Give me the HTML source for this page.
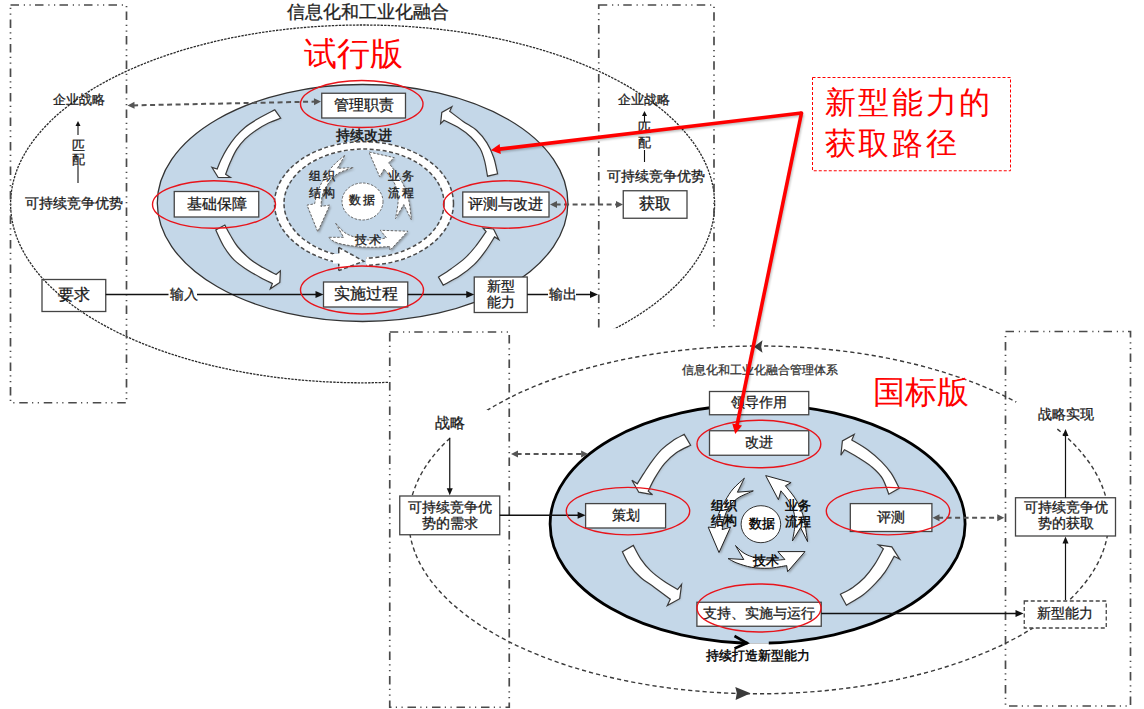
<!DOCTYPE html><html><head><meta charset="utf-8"><style>html,body{margin:0;padding:0;background:#fff;width:1144px;height:709px;overflow:hidden}svg{display:block}</style></head><body>
<svg width="1144" height="709" viewBox="0 0 1144 709" font-family="'Liberation Sans', sans-serif">
<defs><filter id="sh" x="-20%" y="-20%" width="140%" height="140%"><feGaussianBlur stdDeviation="0.8"/></filter><filter id="sh2" x="-20%" y="-20%" width="140%" height="140%"><feGaussianBlur stdDeviation="1.2"/></filter></defs>
<rect width="1144" height="709" fill="#fff"/>
<ellipse cx="362.6" cy="203.9" rx="352" ry="178.9" fill="none" stroke="#2a2a2a" stroke-width="1.3" stroke-dasharray="2.4 1.1"/>
<rect x="10.5" y="5" width="116" height="397.75" fill="none" stroke="#4a4a4a" stroke-width="1.7" stroke-dasharray="8.5 4.8 1.2 4.5 1.2 4.3"/>
<rect x="598.75" y="5" width="115.25" height="340" fill="none" stroke="#4a4a4a" stroke-width="1.7" stroke-dasharray="8.5 4.8 1.2 4.5 1.2 4.3"/>
<text x="367.75" y="11.80" stroke="#222" stroke-width="0.28" font-size="17.5" fill="#222" text-anchor="middle" dominant-baseline="central" font-weight="normal" >信息化和工业化融合</text>
<text x="353.8" y="53.00" font-size="32.6" fill="#F00" text-anchor="middle" dominant-baseline="central" font-weight="normal" >试行版</text>
<ellipse cx="362.6" cy="203" rx="205.3" ry="118.5" fill="#C4D7E8" stroke="#333" stroke-width="1.3"/>
<ellipse cx="364" cy="203.5" rx="84.7" ry="58" fill="none" stroke="#fff" stroke-width="8.5"/>
<ellipse cx="364" cy="203.5" rx="89.5" ry="61.8" fill="none" stroke="#4a4a4a" stroke-width="1.5" stroke-dasharray="4 2.5"/>
<ellipse cx="364" cy="203.5" rx="80" ry="54.5" fill="none" stroke="#4a4a4a" stroke-width="1.5" stroke-dasharray="4 2.5"/>
<rect x="338.5" y="244" width="27.5" height="28" fill="#C4D7E8"/>
<polygon points="338.75,247.5 363.75,261.25 338.75,270.6" fill="#fff"/>
<polyline points="338.75,247.5 363.75,261.25 338.75,270.6" fill="none" stroke="#4a4a4a" stroke-width="1.5" stroke-dasharray="4 2.5"/>
<line x1="338.75" y1="247.5" x2="338.75" y2="253.2" stroke="#3a3a3a" stroke-width="1.5"/>
<line x1="338.75" y1="263.6" x2="338.75" y2="270.6" stroke="#3a3a3a" stroke-width="1.5" stroke-dasharray="3 2"/>
<polygon points="340,254 340,263.5 333,263.5 333,254" fill="#fff"/>
<ellipse cx="362.5" cy="201.5" rx="20.5" ry="18.5" fill="#fff" stroke="#666" stroke-width="1" stroke-dasharray="2.5 1.5"/>
<path d="M274.80,109.80 C271.98,111.30 262.83,115.90 257.90,118.80 C252.97,121.70 248.90,124.22 245.20,127.20 C241.50,130.18 238.70,133.17 235.70,136.70 C232.70,140.23 229.67,144.52 227.20,148.40 C224.73,152.28 222.57,156.57 220.90,160.00 C219.23,163.43 217.82,167.50 217.20,169.00 L211.90,167.40 L218.20,177.50 L230.40,177.50 L225.60,174.30 C226.40,172.27 228.55,166.25 230.40,162.10 C232.25,157.95 234.23,153.27 236.70,149.40 C239.17,145.53 242.02,142.07 245.20,138.90 C248.38,135.73 251.92,133.05 255.80,130.40 C259.68,127.75 264.35,125.03 268.50,123.00 C272.65,120.97 278.67,119.00 280.70,118.20 Z" fill="#777" opacity="0.35" transform="translate(0.8,0.8)" filter="url(#sh)"/>
<path d="M274.80,109.80 C271.98,111.30 262.83,115.90 257.90,118.80 C252.97,121.70 248.90,124.22 245.20,127.20 C241.50,130.18 238.70,133.17 235.70,136.70 C232.70,140.23 229.67,144.52 227.20,148.40 C224.73,152.28 222.57,156.57 220.90,160.00 C219.23,163.43 217.82,167.50 217.20,169.00 L211.90,167.40 L218.20,177.50 L230.40,177.50 L225.60,174.30 C226.40,172.27 228.55,166.25 230.40,162.10 C232.25,157.95 234.23,153.27 236.70,149.40 C239.17,145.53 242.02,142.07 245.20,138.90 C248.38,135.73 251.92,133.05 255.80,130.40 C259.68,127.75 264.35,125.03 268.50,123.00 C272.65,120.97 278.67,119.00 280.70,118.20 Z" fill="#fff" stroke="#3a3a3a" stroke-width="1.2"/>
<path d="M215.80,230.10 C217.13,232.83 220.72,241.48 223.80,246.50 C226.88,251.52 230.43,256.33 234.30,260.20 C238.17,264.07 242.58,266.78 247.00,269.70 C251.42,272.62 256.57,275.40 260.80,277.70 C265.03,280.00 270.47,282.53 272.40,283.50 L270.30,288.80 L279.80,282.40 L280.40,270.80 L276.10,274.50 C273.90,273.35 267.22,270.15 262.90,267.60 C258.58,265.05 254.43,262.72 250.20,259.20 C245.97,255.68 240.85,250.57 237.50,246.50 C234.15,242.43 232.22,238.37 230.10,234.80 C227.98,231.23 225.68,226.72 224.80,225.10 Z" fill="#777" opacity="0.35" transform="translate(0.8,0.8)" filter="url(#sh)"/>
<path d="M215.80,230.10 C217.13,232.83 220.72,241.48 223.80,246.50 C226.88,251.52 230.43,256.33 234.30,260.20 C238.17,264.07 242.58,266.78 247.00,269.70 C251.42,272.62 256.57,275.40 260.80,277.70 C265.03,280.00 270.47,282.53 272.40,283.50 L270.30,288.80 L279.80,282.40 L280.40,270.80 L276.10,274.50 C273.90,273.35 267.22,270.15 262.90,267.60 C258.58,265.05 254.43,262.72 250.20,259.20 C245.97,255.68 240.85,250.57 237.50,246.50 C234.15,242.43 232.22,238.37 230.10,234.80 C227.98,231.23 225.68,226.72 224.80,225.10 Z" fill="#fff" stroke="#3a3a3a" stroke-width="1.2"/>
<path d="M438.50,277.10 C440.62,275.70 446.80,271.87 451.20,268.70 C455.60,265.53 460.85,261.80 464.90,258.10 C468.95,254.40 471.97,250.92 475.50,246.50 C479.03,242.08 484.33,234.08 486.10,231.60 L482.90,227.90 L493.50,229.00 L498.80,239.60 L494.60,236.90 C493.00,239.37 488.37,247.12 485.00,251.70 C481.63,256.28 478.63,260.33 474.40,264.40 C470.17,268.47 464.80,272.65 459.60,276.10 C454.40,279.55 445.93,283.60 443.20,285.10 Z" fill="#777" opacity="0.35" transform="translate(0.8,0.8)" filter="url(#sh)"/>
<path d="M438.50,277.10 C440.62,275.70 446.80,271.87 451.20,268.70 C455.60,265.53 460.85,261.80 464.90,258.10 C468.95,254.40 471.97,250.92 475.50,246.50 C479.03,242.08 484.33,234.08 486.10,231.60 L482.90,227.90 L493.50,229.00 L498.80,239.60 L494.60,236.90 C493.00,239.37 488.37,247.12 485.00,251.70 C481.63,256.28 478.63,260.33 474.40,264.40 C470.17,268.47 464.80,272.65 459.60,276.10 C454.40,279.55 445.93,283.60 443.20,285.10 Z" fill="#fff" stroke="#3a3a3a" stroke-width="1.2"/>
<path d="M497.60,173.90 C496.95,171.17 495.48,162.67 493.70,157.50 C491.92,152.33 489.73,147.40 486.90,142.90 C484.07,138.40 480.65,134.08 476.70,130.50 C472.75,126.92 467.70,124.60 463.20,121.40 C458.70,118.20 451.95,112.98 449.70,111.30 L451.90,106.80 L441.80,112.40 L440.60,123.70 L444.00,120.30 C446.27,121.43 453.08,124.28 457.60,127.10 C462.12,129.92 467.35,133.63 471.10,137.20 C474.85,140.77 477.85,144.55 480.10,148.50 C482.35,152.45 483.37,156.28 484.60,160.90 C485.83,165.52 487.02,173.65 487.50,176.20 Z" fill="#777" opacity="0.35" transform="translate(0.8,0.8)" filter="url(#sh)"/>
<path d="M497.60,173.90 C496.95,171.17 495.48,162.67 493.70,157.50 C491.92,152.33 489.73,147.40 486.90,142.90 C484.07,138.40 480.65,134.08 476.70,130.50 C472.75,126.92 467.70,124.60 463.20,121.40 C458.70,118.20 451.95,112.98 449.70,111.30 L451.90,106.80 L441.80,112.40 L440.60,123.70 L444.00,120.30 C446.27,121.43 453.08,124.28 457.60,127.10 C462.12,129.92 467.35,133.63 471.10,137.20 C474.85,140.77 477.85,144.55 480.10,148.50 C482.35,152.45 483.37,156.28 484.60,160.90 C485.83,165.52 487.02,173.65 487.50,176.20 Z" fill="#fff" stroke="#3a3a3a" stroke-width="1.2"/>
<path d="M337.4,168.3 L345.1,155 C343.08,156.80 336.50,161.88 333.00,165.80 C329.50,169.72 326.63,174.28 324.10,178.50 C321.57,182.72 319.38,186.88 317.80,191.10 C316.22,195.32 315.13,201.68 314.60,203.80 L307,205.1 L317.8,231.8 L329.8,205.1 L320.9,206.4 C321.22,204.28 321.42,197.72 322.80,193.70 C324.18,189.68 326.65,185.68 329.20,182.30 C331.75,178.92 334.08,175.83 338.10,173.40 C342.12,170.97 350.77,168.65 353.30,167.70 Z" fill="#555" opacity="0.55" transform="translate(1.3,1.5)" filter="url(#sh2)"/>
<path d="M337.4,168.3 L345.1,155 C343.08,156.80 336.50,161.88 333.00,165.80 C329.50,169.72 326.63,174.28 324.10,178.50 C321.57,182.72 319.38,186.88 317.80,191.10 C316.22,195.32 315.13,201.68 314.60,203.80 L307,205.1 L317.8,231.8 L329.8,205.1 L320.9,206.4 C321.22,204.28 321.42,197.72 322.80,193.70 C324.18,189.68 326.65,185.68 329.20,182.30 C331.75,178.92 334.08,175.83 338.10,173.40 C342.12,170.97 350.77,168.65 353.30,167.70 Z" fill="#fff" stroke="#666" stroke-width="1" stroke-dasharray="2.5 1.5"/>
<path d="M384.1,169.1 L379.7,176.7 L368.9,152 L394.3,157.7 L388.6,162.8 C390.18,164.92 395.47,171.48 398.10,175.50 C400.73,179.52 402.60,182.68 404.40,186.90 C406.20,191.12 407.73,195.30 408.90,200.80 C410.07,206.30 410.98,216.72 411.40,219.90 L403.8,204.6 L395.5,218.6 C395.93,215.63 398.10,206.30 398.10,200.80 C398.10,195.30 396.98,189.82 395.50,185.60 C394.02,181.38 391.10,178.25 389.20,175.50 C387.30,172.75 384.95,170.17 384.10,169.10 Z" fill="#555" opacity="0.55" transform="translate(1.3,1.5)" filter="url(#sh2)"/>
<path d="M384.1,169.1 L379.7,176.7 L368.9,152 L394.3,157.7 L388.6,162.8 C390.18,164.92 395.47,171.48 398.10,175.50 C400.73,179.52 402.60,182.68 404.40,186.90 C406.20,191.12 407.73,195.30 408.90,200.80 C410.07,206.30 410.98,216.72 411.40,219.90 L403.8,204.6 L395.5,218.6 C395.93,215.63 398.10,206.30 398.10,200.80 C398.10,195.30 396.98,189.82 395.50,185.60 C394.02,181.38 391.10,178.25 389.20,175.50 C387.30,172.75 384.95,170.17 384.10,169.10 Z" fill="#fff" stroke="#666" stroke-width="1" stroke-dasharray="2.5 1.5"/>
<path d="M335.7,223.3 L343.6,237.3 L328.3,237.3 C329.83,238.25 332.77,241.47 337.50,243.00 C342.23,244.53 350.58,245.78 356.70,246.50 C362.82,247.22 368.67,247.30 374.20,247.30 C379.73,247.30 387.28,246.63 389.90,246.50 L389.9,250.4 L407.9,231.2 L380.3,230.3 L386.4,237.7 C384.07,238.13 377.35,240.30 372.40,240.30 C367.45,240.30 361.35,239.00 356.70,237.70 C352.05,236.40 348.00,234.90 344.50,232.50 C341.00,230.10 337.17,224.83 335.70,223.30 Z" fill="#555" opacity="0.55" transform="translate(1.3,1.5)" filter="url(#sh2)"/>
<path d="M335.7,223.3 L343.6,237.3 L328.3,237.3 C329.83,238.25 332.77,241.47 337.50,243.00 C342.23,244.53 350.58,245.78 356.70,246.50 C362.82,247.22 368.67,247.30 374.20,247.30 C379.73,247.30 387.28,246.63 389.90,246.50 L389.9,250.4 L407.9,231.2 L380.3,230.3 L386.4,237.7 C384.07,238.13 377.35,240.30 372.40,240.30 C367.45,240.30 361.35,239.00 356.70,237.70 C352.05,236.40 348.00,234.90 344.50,232.50 C341.00,230.10 337.17,224.83 335.70,223.30 Z" fill="#fff" stroke="#666" stroke-width="1" stroke-dasharray="2.5 1.5"/>
<text x="364.4" y="135.80" font-size="13.5" fill="#222" text-anchor="middle" dominant-baseline="central" font-weight="bold" >持续改进</text>
<text x="323.5" y="176.30" stroke="#222" stroke-width="0.35" font-size="11.5" fill="#222" text-anchor="middle" dominant-baseline="central" font-weight="normal" letter-spacing="2.2">组织</text>
<text x="323.5" y="192.55" stroke="#222" stroke-width="0.35" font-size="11.5" fill="#222" text-anchor="middle" dominant-baseline="central" font-weight="normal" letter-spacing="2.2">结构</text>
<text x="402" y="176.30" stroke="#222" stroke-width="0.35" font-size="11.5" fill="#222" text-anchor="middle" dominant-baseline="central" font-weight="normal" letter-spacing="2.2">业务</text>
<text x="402" y="192.55" stroke="#222" stroke-width="0.35" font-size="11.5" fill="#222" text-anchor="middle" dominant-baseline="central" font-weight="normal" letter-spacing="2.2">流程</text>
<text x="363.5" y="200.05" stroke="#222" stroke-width="0.35" font-size="11.5" fill="#222" text-anchor="middle" dominant-baseline="central" font-weight="normal" letter-spacing="2.2">数据</text>
<text x="369.5" y="239.80" stroke="#222" stroke-width="0.35" font-size="11.5" fill="#222" text-anchor="middle" dominant-baseline="central" font-weight="normal" letter-spacing="2.2">技术</text>
<rect x="321.75" y="93.25" width="83.75" height="24.75" fill="#fff" stroke="#444" stroke-width="1.3"/>
<text x="363.6" y="104.80" stroke="#1a1a1a" stroke-width="0.28" font-size="15.2" fill="#1a1a1a" text-anchor="middle" dominant-baseline="central" font-weight="normal" >管理职责</text>
<rect x="174.25" y="191.5" width="84.50" height="25.50" fill="#fff" stroke="#444" stroke-width="1.3"/>
<text x="216.5" y="203.30" stroke="#1a1a1a" stroke-width="0.28" font-size="15.2" fill="#1a1a1a" text-anchor="middle" dominant-baseline="central" font-weight="normal" >基础保障</text>
<rect x="462.75" y="192" width="86.25" height="25.00" fill="#fff" stroke="#444" stroke-width="1.3"/>
<text x="505.9" y="203.60" stroke="#1a1a1a" stroke-width="0.28" font-size="15.2" fill="#1a1a1a" text-anchor="middle" dominant-baseline="central" font-weight="normal" >评测与改进</text>
<rect x="323.5" y="282" width="84.25" height="25.00" fill="#fff" stroke="#444" stroke-width="1.3"/>
<text x="365.6" y="293.60" stroke="#1a1a1a" stroke-width="0.28" font-size="15.5" fill="#1a1a1a" text-anchor="middle" dominant-baseline="central" font-weight="normal" >实施过程</text>
<rect x="474.25" y="277" width="53.00" height="35.50" fill="#fff" stroke="#444" stroke-width="1.3"/>
<text x="500.75" y="285.60" stroke="#1a1a1a" stroke-width="0.28" font-size="14.2" fill="#1a1a1a" text-anchor="middle" dominant-baseline="central" font-weight="normal" >新型</text>
<text x="500.75" y="301.60" stroke="#1a1a1a" stroke-width="0.28" font-size="14.2" fill="#1a1a1a" text-anchor="middle" dominant-baseline="central" font-weight="normal" >能力</text>
<rect x="42" y="279.5" width="63.75" height="32.00" fill="none" stroke="#444" stroke-width="1.3"/>
<text x="73.9" y="294.30" stroke="#1a1a1a" stroke-width="0.28" font-size="16" fill="#1a1a1a" text-anchor="middle" dominant-baseline="central" font-weight="normal" >要求</text>
<rect x="623.25" y="190.75" width="63.75" height="27.50" fill="#fff" stroke="#444" stroke-width="1.3"/>
<text x="655.1" y="203.30" stroke="#1a1a1a" stroke-width="0.28" font-size="16" fill="#1a1a1a" text-anchor="middle" dominant-baseline="central" font-weight="normal" >获取</text>
<text x="78.5" y="99.40" stroke="#1a1a1a" stroke-width="0.28" font-size="13.4" fill="#1a1a1a" text-anchor="middle" dominant-baseline="central" font-weight="normal" >企业战略</text>
<text x="78" y="145.80" stroke="#1a1a1a" stroke-width="0.28" font-size="13.2" fill="#1a1a1a" text-anchor="middle" dominant-baseline="central" font-weight="normal" >匹</text>
<text x="78" y="159.00" stroke="#1a1a1a" stroke-width="0.28" font-size="13.2" fill="#1a1a1a" text-anchor="middle" dominant-baseline="central" font-weight="normal" >配</text>
<line x1="78.00" y1="135.00" x2="78.00" y2="125.00" stroke="#111" stroke-width="1.1"/>
<polygon points="78.00,121.00 80.50,126.00 75.50,126.00" fill="#111" />
<line x1="78" y1="166" x2="78" y2="183" stroke="#111" stroke-width="1.1"/>
<text x="74.2" y="203.40" stroke="#1a1a1a" stroke-width="0.28" font-size="13.7" fill="#1a1a1a" text-anchor="middle" dominant-baseline="central" font-weight="normal" >可持续竞争优势</text>
<text x="643.9" y="99.10" stroke="#1a1a1a" stroke-width="0.28" font-size="13.4" fill="#1a1a1a" text-anchor="middle" dominant-baseline="central" font-weight="normal" >企业战略</text>
<text x="644.5" y="127.80" stroke="#1a1a1a" stroke-width="0.28" font-size="12.5" fill="#1a1a1a" text-anchor="middle" dominant-baseline="central" font-weight="normal" >匹</text>
<text x="644.5" y="142.80" stroke="#1a1a1a" stroke-width="0.28" font-size="12.5" fill="#1a1a1a" text-anchor="middle" dominant-baseline="central" font-weight="normal" >配</text>
<line x1="644.50" y1="122.00" x2="644.50" y2="115.00" stroke="#111" stroke-width="1.1"/>
<polygon points="644.50,111.00 647.00,116.00 642.00,116.00" fill="#111" />
<line x1="644.5" y1="150" x2="644.5" y2="162" stroke="#111" stroke-width="1.1"/>
<text x="655.6" y="176.60" stroke="#1a1a1a" stroke-width="0.28" font-size="13.7" fill="#1a1a1a" text-anchor="middle" dominant-baseline="central" font-weight="normal" >可持续竞争优势</text>
<line x1="133.10" y1="105.38" x2="315.40" y2="101.62" stroke="#555" stroke-width="2" stroke-dasharray="5 3.5"/>
<polygon points="321.00,101.50 314.07,105.14 313.93,98.15" fill="#555" />
<polygon points="127.50,105.50 134.43,101.86 134.57,108.85" fill="#555" />
<line x1="555.60" y1="204.40" x2="617.40" y2="204.40" stroke="#555" stroke-width="2" stroke-dasharray="5 3.5"/>
<polygon points="623.00,204.40 616.00,207.90 616.00,200.90" fill="#555" />
<polygon points="550.00,204.40 557.00,200.90 557.00,207.90" fill="#555" />
<line x1="105.75" y1="294.40" x2="317.10" y2="294.40" stroke="#111" stroke-width="1.5"/>
<polygon points="323.50,294.40 315.50,297.90 315.50,290.90" fill="#111" />
<rect x="168.5" y="286" width="28.5" height="16" fill="#fff"/>
<text x="183.5" y="294.10" stroke="#1a1a1a" stroke-width="0.28" font-size="13.5" fill="#1a1a1a" text-anchor="middle" dominant-baseline="central" font-weight="normal" >输入</text>
<line x1="407.75" y1="294.40" x2="467.85" y2="294.40" stroke="#111" stroke-width="1.5"/>
<polygon points="474.25,294.40 466.25,297.90 466.25,290.90" fill="#111" />
<line x1="527.25" y1="294.40" x2="591.60" y2="294.40" stroke="#111" stroke-width="1.5"/>
<polygon points="598.00,294.40 590.00,297.90 590.00,290.90" fill="#111" />
<rect x="548" y="286" width="28" height="16" fill="#fff"/>
<text x="563" y="294.10" stroke="#1a1a1a" stroke-width="0.28" font-size="13.5" fill="#1a1a1a" text-anchor="middle" dominant-baseline="central" font-weight="normal" >输出</text>
<ellipse cx="361.75" cy="104" rx="61.25" ry="23.5" fill="none" stroke="#E8141B" stroke-width="1.4"/>
<ellipse cx="214" cy="204.5" rx="61.5" ry="23.75" fill="none" stroke="#E8141B" stroke-width="1.4"/>
<ellipse cx="504.75" cy="204.5" rx="61.25" ry="23.75" fill="none" stroke="#E8141B" stroke-width="1.4"/>
<ellipse cx="362" cy="290" rx="61.5" ry="24" fill="none" stroke="#E8141B" stroke-width="1.4"/>
<rect x="388" y="328.25" width="756" height="381" fill="#fff"/>
<rect x="389.75" y="332" width="119.5" height="375.25" fill="none" stroke="#4a4a4a" stroke-width="1.7" stroke-dasharray="8.5 4.8 1.2 4.5 1.2 4.3"/>
<rect x="1005.5" y="331.5" width="125" height="374.5" fill="none" stroke="#4a4a4a" stroke-width="1.7" stroke-dasharray="8.5 4.8 1.2 4.5 1.2 4.3"/>
<ellipse cx="758.8" cy="519.9" rx="350" ry="173.9" fill="none" stroke="#3a3a3a" stroke-width="1.4" stroke-dasharray="4.2 3"/>
<polygon points="753.9,346.8 762.5,340.3 761.2,346.8 762.5,352.8" fill="#3a3a3a"/>
<polygon points="750.6,693.3 735.3,687 736.8,693 735.6,699.9" fill="#3a3a3a"/>
<rect x="425" y="410" width="63" height="27" fill="#fff"/>
<rect x="1016" y="402" width="90" height="26" fill="#fff"/>
<text x="759.5" y="369.80" stroke="#333" stroke-width="0.28" font-size="12.2" fill="#333" text-anchor="middle" dominant-baseline="central" font-weight="normal" >信息化和工业化融合管理体系</text>
<text x="920.5" y="391.55" font-size="32" fill="#F00" text-anchor="middle" dominant-baseline="central" font-weight="normal" >国标版</text>
<ellipse cx="757.6" cy="523.9" rx="207.5" ry="119.4" fill="#C4D7E8" stroke="#000" stroke-width="2.8"/>
<rect x="747.5" y="637" width="21.25" height="6.3" fill="#C4D7E8"/>
<rect x="747.5" y="643.3" width="21.25" height="4" fill="#fff"/>
<polyline points="734.5,636 747,643 734.5,648.5" fill="none" stroke="#000" stroke-width="2.6"/>
<text x="758.25" y="656.05" font-size="12.5" fill="#111" text-anchor="middle" dominant-baseline="central" font-weight="bold" >持续打造新型能力</text>
<path d="M684.20,434.40 C682.23,435.48 676.18,438.35 672.40,440.90 C668.62,443.45 664.95,446.25 661.50,449.70 C658.05,453.15 654.65,457.65 651.70,461.60 C648.75,465.55 646.20,469.70 643.80,473.40 C641.40,477.10 638.38,482.07 637.30,483.80 L631.90,480.30 L638.80,492.20 L652.60,494.70 L648.20,491.20 C649.27,489.07 651.88,483.00 654.60,478.40 C657.32,473.80 660.88,467.88 664.50,463.60 C668.12,459.32 671.95,455.75 676.30,452.70 C680.65,449.65 688.22,446.53 690.60,445.30 Z" fill="#777" opacity="0.35" transform="translate(0.8,0.8)" filter="url(#sh)"/>
<path d="M684.20,434.40 C682.23,435.48 676.18,438.35 672.40,440.90 C668.62,443.45 664.95,446.25 661.50,449.70 C658.05,453.15 654.65,457.65 651.70,461.60 C648.75,465.55 646.20,469.70 643.80,473.40 C641.40,477.10 638.38,482.07 637.30,483.80 L631.90,480.30 L638.80,492.20 L652.60,494.70 L648.20,491.20 C649.27,489.07 651.88,483.00 654.60,478.40 C657.32,473.80 660.88,467.88 664.50,463.60 C668.12,459.32 671.95,455.75 676.30,452.70 C680.65,449.65 688.22,446.53 690.60,445.30 Z" fill="#fff" stroke="#3a3a3a" stroke-width="1.2"/>
<path d="M622.40,551.80 C623.63,554.12 626.75,561.42 629.80,565.70 C632.85,569.98 636.58,573.88 640.70,577.50 C644.82,581.12 649.57,583.78 654.50,587.40 C659.43,591.02 667.67,597.23 670.30,599.20 L667.30,605.60 L679.70,598.70 L681.60,584.40 L677.70,589.40 C675.48,588.08 668.93,584.63 664.40,581.50 C659.87,578.37 654.45,574.38 650.50,570.60 C646.55,566.82 643.57,563.00 640.70,558.80 C637.83,554.60 634.53,547.63 633.30,545.40 Z" fill="#777" opacity="0.35" transform="translate(0.8,0.8)" filter="url(#sh)"/>
<path d="M622.40,551.80 C623.63,554.12 626.75,561.42 629.80,565.70 C632.85,569.98 636.58,573.88 640.70,577.50 C644.82,581.12 649.57,583.78 654.50,587.40 C659.43,591.02 667.67,597.23 670.30,599.20 L667.30,605.60 L679.70,598.70 L681.60,584.40 L677.70,589.40 C675.48,588.08 668.93,584.63 664.40,581.50 C659.87,578.37 654.45,574.38 650.50,570.60 C646.55,566.82 643.57,563.00 640.70,558.80 C637.83,554.60 634.53,547.63 633.30,545.40 Z" fill="#fff" stroke="#3a3a3a" stroke-width="1.2"/>
<path d="M899.20,488.20 C897.88,485.73 894.27,477.83 891.30,473.40 C888.33,468.97 885.35,465.55 881.40,461.60 C877.45,457.65 872.53,453.32 867.60,449.70 C862.67,446.08 854.43,441.53 851.80,439.90 L854.20,434.40 L842.40,440.90 L840.90,455.20 L844.40,449.70 C846.95,451.18 855.02,455.63 859.70,458.60 C864.38,461.57 868.72,464.20 872.50,467.50 C876.28,470.80 879.68,473.95 882.40,478.40 C885.12,482.85 887.73,491.57 888.80,494.20 Z" fill="#777" opacity="0.35" transform="translate(0.8,0.8)" filter="url(#sh)"/>
<path d="M899.20,488.20 C897.88,485.73 894.27,477.83 891.30,473.40 C888.33,468.97 885.35,465.55 881.40,461.60 C877.45,457.65 872.53,453.32 867.60,449.70 C862.67,446.08 854.43,441.53 851.80,439.90 L854.20,434.40 L842.40,440.90 L840.90,455.20 L844.40,449.70 C846.95,451.18 855.02,455.63 859.70,458.60 C864.38,461.57 868.72,464.20 872.50,467.50 C876.28,470.80 879.68,473.95 882.40,478.40 C885.12,482.85 887.73,491.57 888.80,494.20 Z" fill="#fff" stroke="#3a3a3a" stroke-width="1.2"/>
<path d="M840.40,594.30 C842.47,593.15 848.77,590.20 852.80,587.40 C856.83,584.60 860.98,581.28 864.60,577.50 C868.22,573.72 871.37,569.47 874.50,564.70 C877.63,559.93 881.92,551.53 883.40,548.90 L878.40,544.90 L891.80,546.90 L899.70,559.20 L894.20,556.30 C892.72,558.85 888.42,567.08 885.30,571.60 C882.18,576.12 879.28,579.45 875.50,583.40 C871.72,587.35 867.45,591.67 862.60,595.30 C857.75,598.93 849.10,603.55 846.40,605.20 Z" fill="#777" opacity="0.35" transform="translate(0.8,0.8)" filter="url(#sh)"/>
<path d="M840.40,594.30 C842.47,593.15 848.77,590.20 852.80,587.40 C856.83,584.60 860.98,581.28 864.60,577.50 C868.22,573.72 871.37,569.47 874.50,564.70 C877.63,559.93 881.92,551.53 883.40,548.90 L878.40,544.90 L891.80,546.90 L899.70,559.20 L894.20,556.30 C892.72,558.85 888.42,567.08 885.30,571.60 C882.18,576.12 879.28,579.45 875.50,583.40 C871.72,587.35 867.45,591.67 862.60,595.30 C857.75,598.93 849.10,603.55 846.40,605.20 Z" fill="#fff" stroke="#3a3a3a" stroke-width="1.2"/>
<path d="M737.4,492.2 L744.4,478.2 C742.50,480.00 736.17,485.28 733.00,489.00 C729.83,492.72 727.73,496.48 725.40,500.50 C723.07,504.52 720.70,508.57 719.00,513.10 C717.30,517.63 715.83,525.27 715.20,527.70 L708.2,527.1 L719,552.5 L730.5,527.1 L722.2,529.6 C722.52,527.70 722.93,522.00 724.10,518.20 C725.27,514.40 726.87,510.18 729.20,506.80 C731.53,503.42 734.08,500.55 738.10,497.90 C742.12,495.25 750.77,492.07 753.30,490.90 Z" fill="#555" opacity="0.55" transform="translate(1.3,1.5)" filter="url(#sh2)"/>
<path d="M737.4,492.2 L744.4,478.2 C742.50,480.00 736.17,485.28 733.00,489.00 C729.83,492.72 727.73,496.48 725.40,500.50 C723.07,504.52 720.70,508.57 719.00,513.10 C717.30,517.63 715.83,525.27 715.20,527.70 L708.2,527.1 L719,552.5 L730.5,527.1 L722.2,529.6 C722.52,527.70 722.93,522.00 724.10,518.20 C725.27,514.40 726.87,510.18 729.20,506.80 C731.53,503.42 734.08,500.55 738.10,497.90 C742.12,495.25 750.77,492.07 753.30,490.90 Z" fill="#fff" stroke="#222" stroke-width="1"/>
<path d="M780.9,490.8 L778.4,499.7 L765.7,475.6 L791.1,482.6 L785.4,485.8 C786.88,487.70 791.77,493.40 794.30,497.20 C796.83,501.00 798.92,504.58 800.60,508.60 C802.28,512.62 803.23,515.80 804.40,521.30 C805.57,526.80 807.07,538.22 807.60,541.60 L800.6,527.6 L792.4,541 C792.82,538.35 794.70,530.08 794.90,525.10 C795.10,520.12 794.77,515.33 793.60,511.10 C792.43,506.87 790.02,503.08 787.90,499.70 C785.78,496.32 782.07,492.28 780.90,490.80 Z" fill="#555" opacity="0.55" transform="translate(1.3,1.5)" filter="url(#sh2)"/>
<path d="M780.9,490.8 L778.4,499.7 L765.7,475.6 L791.1,482.6 L785.4,485.8 C786.88,487.70 791.77,493.40 794.30,497.20 C796.83,501.00 798.92,504.58 800.60,508.60 C802.28,512.62 803.23,515.80 804.40,521.30 C805.57,526.80 807.07,538.22 807.60,541.60 L800.6,527.6 L792.4,541 C792.82,538.35 794.70,530.08 794.90,525.10 C795.10,520.12 794.77,515.33 793.60,511.10 C792.43,506.87 790.02,503.08 787.90,499.70 C785.78,496.32 782.07,492.28 780.90,490.80 Z" fill="#fff" stroke="#222" stroke-width="1"/>
<path d="M735.5,545.5 L743.8,559.5 L728.1,558.6 C729.57,559.33 732.97,561.55 736.90,563.00 C740.83,564.45 746.32,566.43 751.70,567.30 C757.08,568.17 763.37,568.48 769.20,568.20 C775.03,567.92 783.78,566.03 786.70,565.60 L787.6,571.7 L805,551.6 L777.9,551.6 L784.9,559.5 C782.28,559.63 774.58,560.73 769.20,560.30 C763.82,559.87 756.97,558.20 752.60,556.90 C748.23,555.60 745.85,554.40 743.00,552.50 C740.15,550.60 736.75,546.67 735.50,545.50 Z" fill="#555" opacity="0.55" transform="translate(1.3,1.5)" filter="url(#sh2)"/>
<path d="M735.5,545.5 L743.8,559.5 L728.1,558.6 C729.57,559.33 732.97,561.55 736.90,563.00 C740.83,564.45 746.32,566.43 751.70,567.30 C757.08,568.17 763.37,568.48 769.20,568.20 C775.03,567.92 783.78,566.03 786.70,565.60 L787.6,571.7 L805,551.6 L777.9,551.6 L784.9,559.5 C782.28,559.63 774.58,560.73 769.20,560.30 C763.82,559.87 756.97,558.20 752.60,556.90 C748.23,555.60 745.85,554.40 743.00,552.50 C740.15,550.60 736.75,546.67 735.50,545.50 Z" fill="#fff" stroke="#222" stroke-width="1"/>
<ellipse cx="760.9" cy="524.2" rx="19.8" ry="18.5" fill="#fff" stroke="#333" stroke-width="1"/>
<text x="762.4" y="523.30" font-size="12.8" fill="#111" text-anchor="middle" dominant-baseline="central" font-weight="bold" >数据</text>
<text x="724" y="505.30" font-size="12.8" fill="#111" text-anchor="middle" dominant-baseline="central" font-weight="bold" >组织</text>
<text x="724" y="520.70" font-size="12.8" fill="#111" text-anchor="middle" dominant-baseline="central" font-weight="bold" >结构</text>
<text x="797.7" y="505.80" font-size="12.8" fill="#111" text-anchor="middle" dominant-baseline="central" font-weight="bold" >业务</text>
<text x="797.7" y="521.20" font-size="12.8" fill="#111" text-anchor="middle" dominant-baseline="central" font-weight="bold" >流程</text>
<text x="766" y="560.30" font-size="12.8" fill="#111" text-anchor="middle" dominant-baseline="central" font-weight="bold" >技术</text>
<rect x="709.5" y="391.5" width="99.25" height="23.25" fill="#fff" stroke="#444" stroke-width="1.3"/>
<text x="759.1" y="402.20" stroke="#1a1a1a" stroke-width="0.28" font-size="14.2" fill="#1a1a1a" text-anchor="middle" dominant-baseline="central" font-weight="normal" >领导作用</text>
<rect x="709.5" y="430.75" width="99.25" height="24.50" fill="#fff" stroke="#444" stroke-width="1.3"/>
<text x="759.1" y="442.10" stroke="#1a1a1a" stroke-width="0.28" font-size="14.2" fill="#1a1a1a" text-anchor="middle" dominant-baseline="central" font-weight="normal" >改进</text>
<rect x="585.6" y="503.6" width="80.00" height="24.40" fill="#fff" stroke="#444" stroke-width="1.3"/>
<text x="625.6" y="514.80" stroke="#1a1a1a" stroke-width="0.28" font-size="14.2" fill="#1a1a1a" text-anchor="middle" dominant-baseline="central" font-weight="normal" >策划</text>
<rect x="850.3" y="503.6" width="81.60" height="27.90" fill="#fff" stroke="#444" stroke-width="1.3"/>
<text x="891.1" y="516.60" stroke="#1a1a1a" stroke-width="0.28" font-size="14.2" fill="#1a1a1a" text-anchor="middle" dominant-baseline="central" font-weight="normal" >评测</text>
<rect x="696.9" y="602.25" width="124.35" height="24.00" fill="#fff" stroke="#444" stroke-width="1.3"/>
<text x="759.1" y="613.30" stroke="#1a1a1a" stroke-width="0.28" font-size="14.2" fill="#1a1a1a" text-anchor="middle" dominant-baseline="central" font-weight="normal" >支持、实施与运行</text>
<rect x="399.75" y="496" width="100.00" height="38.75" fill="#fff" stroke="#444" stroke-width="1.3"/>
<text x="449.75" y="506.55" stroke="#1a1a1a" stroke-width="0.28" font-size="14" fill="#1a1a1a" text-anchor="middle" dominant-baseline="central" font-weight="normal" >可持续竞争优</text>
<text x="449.75" y="522.80" stroke="#1a1a1a" stroke-width="0.28" font-size="14" fill="#1a1a1a" text-anchor="middle" dominant-baseline="central" font-weight="normal" >势的需求</text>
<rect x="1015.5" y="497.75" width="100.00" height="38.25" fill="#fff" stroke="#444" stroke-width="1.3"/>
<text x="1065.5" y="506.55" stroke="#1a1a1a" stroke-width="0.28" font-size="14" fill="#1a1a1a" text-anchor="middle" dominant-baseline="central" font-weight="normal" >可持续竞争优</text>
<text x="1065.5" y="522.80" stroke="#1a1a1a" stroke-width="0.28" font-size="14" fill="#1a1a1a" text-anchor="middle" dominant-baseline="central" font-weight="normal" >势的获取</text>
<rect x="1024.25" y="601" width="82.00" height="27.00" fill="#fff" stroke="#444" stroke-width="1.3" stroke-dasharray="4 2.5"/>
<text x="1065.25" y="613.30" stroke="#1a1a1a" stroke-width="0.28" font-size="14.2" fill="#1a1a1a" text-anchor="middle" dominant-baseline="central" font-weight="normal" >新型能力</text>
<text x="449.75" y="422.80" stroke="#1a1a1a" stroke-width="0.28" font-size="14.5" fill="#1a1a1a" text-anchor="middle" dominant-baseline="central" font-weight="normal" >战略</text>
<text x="1066" y="413.55" stroke="#1a1a1a" stroke-width="0.28" font-size="14.2" fill="#1a1a1a" text-anchor="middle" dominant-baseline="central" font-weight="normal" >战略实现</text>
<line x1="449.75" y1="437.75" x2="449.75" y2="489.65" stroke="#111" stroke-width="1.2"/>
<polygon points="449.75,495.25 446.75,488.25 452.75,488.25" fill="#111" />
<line x1="1065.50" y1="497.75" x2="1065.50" y2="434.60" stroke="#111" stroke-width="1.2"/>
<polygon points="1065.50,429.00 1068.50,436.00 1062.50,436.00" fill="#111" />
<line x1="1065.50" y1="600.00" x2="1065.50" y2="542.10" stroke="#111" stroke-width="1.2"/>
<polygon points="1065.50,536.50 1068.50,543.50 1062.50,543.50" fill="#111" />
<line x1="499.75" y1="515.25" x2="579.20" y2="515.25" stroke="#111" stroke-width="1.5"/>
<polygon points="585.60,515.25 577.60,518.75 577.60,511.75" fill="#111" />
<line x1="821.25" y1="613.50" x2="1017.10" y2="613.50" stroke="#111" stroke-width="1.5"/>
<polygon points="1023.50,613.50 1015.50,617.00 1015.50,610.00" fill="#111" />
<line x1="516.60" y1="454.00" x2="582.50" y2="454.00" stroke="#555" stroke-width="2" stroke-dasharray="5 3.5"/>
<polygon points="588.10,454.00 581.10,457.50 581.10,450.50" fill="#555" />
<polygon points="511.00,454.00 518.00,450.50 518.00,457.50" fill="#555" />
<line x1="938.10" y1="517.75" x2="998.65" y2="517.75" stroke="#555" stroke-width="2" stroke-dasharray="5 3.5"/>
<polygon points="1004.25,517.75 997.25,521.25 997.25,514.25" fill="#555" />
<polygon points="932.50,517.75 939.50,514.25 939.50,521.25" fill="#555" />
<ellipse cx="758.9" cy="444" rx="61.9" ry="23.75" fill="none" stroke="#E8141B" stroke-width="1.4"/>
<ellipse cx="628" cy="511.1" rx="61.7" ry="23.75" fill="none" stroke="#E8141B" stroke-width="1.4"/>
<ellipse cx="888" cy="511.1" rx="61.7" ry="23.75" fill="none" stroke="#E8141B" stroke-width="1.4"/>
<ellipse cx="759" cy="608" rx="62" ry="24" fill="none" stroke="#E8141B" stroke-width="1.4"/>
<rect x="812.5" y="77.5" width="198" height="93.25" fill="#fff" stroke="#F00" stroke-width="1" stroke-dasharray="3 2"/>
<text x="824.5" y="102.30" font-size="31" fill="#F00" text-anchor="start" dominant-baseline="central" font-weight="normal" letter-spacing="2.7">新型能力的</text>
<text x="824.5" y="143.60" font-size="31" fill="#F00" text-anchor="start" dominant-baseline="central" font-weight="normal" letter-spacing="2.7">获取路径</text>
<circle cx="801.5" cy="113" r="1.8" fill="#F00"/>
<line x1="801.5" y1="113" x2="497.40" y2="149.41" stroke="#000" stroke-opacity="0.25" stroke-width="3.6" transform="translate(1,1.5)" filter="url(#sh2)"/>
<line x1="801.5" y1="113" x2="497.40" y2="149.41" stroke="#F00" stroke-width="3.6"/>
<polygon points="490.80,150.20 499.64,144.11 500.83,154.04" fill="#F00" />
<line x1="801.5" y1="113" x2="736.55" y2="427.39" stroke="#000" stroke-opacity="0.25" stroke-width="3.6" transform="translate(1,1.5)" filter="url(#sh2)"/>
<line x1="801.5" y1="113" x2="736.55" y2="427.39" stroke="#F00" stroke-width="3.6"/>
<polygon points="735.20,433.90 732.23,423.58 742.02,425.61" fill="#F00" />
</svg></body></html>
